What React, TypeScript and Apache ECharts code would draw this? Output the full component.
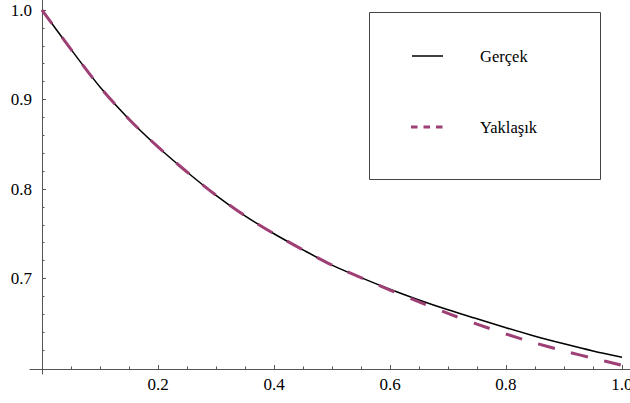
import React, { useEffect, useRef } from "react";
import * as echarts from "echarts";

const xs = [0, 0.05, 0.1, 0.15, 0.2, 0.25, 0.3, 0.35, 0.4, 0.45, 0.5, 0.55, 0.6, 0.65, 0.7, 0.75, 0.8, 0.85, 0.9, 0.95, 1.0];
const gercek = [1.0, 0.956, 0.914, 0.878, 0.847, 0.819, 0.793, 0.77, 0.75, 0.732, 0.715, 0.701, 0.688, 0.676, 0.665, 0.655, 0.645, 0.6355, 0.627, 0.619, 0.612];
const yaklasik = [1.0, 0.956, 0.914, 0.878, 0.847, 0.819, 0.793, 0.77, 0.75, 0.732, 0.715, 0.701, 0.687, 0.674, 0.661, 0.649, 0.638, 0.628, 0.619, 0.611, 0.603];

const xMajorTicks = [0.2, 0.4, 0.6, 0.8, 1.0];
const xMinorTicks = [0.05, 0.1, 0.15, 0.25, 0.3, 0.35, 0.45, 0.5, 0.55, 0.65, 0.7, 0.75, 0.85, 0.9, 0.95];
const yMajorTicks = [0.7, 0.8, 0.9, 1.0];
const yMinorTicks = [0.62, 0.64, 0.66, 0.68, 0.72, 0.74, 0.76, 0.78, 0.82, 0.84, 0.86, 0.88, 0.92, 0.94, 0.96, 0.98];

const legendNames = ["Gerçek", "Yaklaşık"];

const FONT = "Liberation Serif, DejaVu Serif, serif";
const AXIS_COLOR = "#555";
const DASH_COLOR = "#9e3f75";

export default function App() {
  const ref = useRef<HTMLDivElement>(null);
  useEffect(() => {
    if (!ref.current) return;
    const chart = echarts.init(ref.current, undefined, { renderer: "svg" });
    const xMin = -0.0207;
    const xMax = 1.0138;
    const yMin = 0.5933;
    const yMax = 1.0112;
    const baseX = {
      type: "value" as const,
      min: xMin,
      max: xMax,
      position: "bottom" as const,
      offset: -5,
      splitLine: { show: false },
    };
    const baseY = {
      type: "value" as const,
      min: yMin,
      max: yMax,
      position: "left" as const,
      offset: -12,
      splitLine: { show: false },
    };
    chart.setOption({
      animation: false,
      backgroundColor: "#fff",
      textStyle: { fontFamily: FONT },
      grid: { left: 30, right: 0, top: 0, bottom: 29, outerBoundsMode: "none" },
      legend: { show: false },
      xAxis: [
        {
          ...baseX,
          axisLine: { show: true, lineStyle: { color: AXIS_COLOR, width: 1 } },
          axisTick: { show: true, inside: true, length: 4, customValues: xMajorTicks, lineStyle: { color: AXIS_COLOR } },
          axisLabel: {
            show: true,
            customValues: xMajorTicks,
            margin: 7,
            color: "#000",
            fontFamily: FONT,
            fontSize: 17,
            formatter: (v: number) => v.toFixed(1),
          },
        },
        {
          ...baseX,
          axisLine: { show: false },
          axisTick: { show: true, inside: true, length: 2.5, customValues: xMinorTicks, lineStyle: { color: AXIS_COLOR } },
          axisLabel: { show: false },
        },
      ],
      yAxis: [
        {
          ...baseY,
          axisLine: { show: true, lineStyle: { color: AXIS_COLOR, width: 1 } },
          axisTick: { show: true, inside: true, length: 4, customValues: yMajorTicks, lineStyle: { color: AXIS_COLOR } },
          axisLabel: {
            show: true,
            customValues: yMajorTicks,
            margin: 10,
            color: "#000",
            fontFamily: FONT,
            fontSize: 17,
            formatter: (v: number) => v.toFixed(1),
          },
        },
        {
          ...baseY,
          axisLine: { show: false },
          axisTick: { show: true, inside: true, length: 2.5, customValues: yMinorTicks, lineStyle: { color: AXIS_COLOR } },
          axisLabel: { show: false },
        },
      ],
      series: [
        {
          name: legendNames[0],
          type: "line",
          xAxisIndex: 0,
          yAxisIndex: 0,
          data: xs.map((x, i) => [x, gercek[i]]),
          smooth: 0.3,
          showSymbol: false,
          lineStyle: { color: "#000", width: 1.5 },
          z: 2,
        },
        {
          name: legendNames[1],
          type: "line",
          xAxisIndex: 0,
          yAxisIndex: 0,
          data: xs.map((x, i) => [x, yaklasik[i]]),
          smooth: 0.3,
          showSymbol: false,
          lineStyle: { color: DASH_COLOR, width: 3, type: [17, 17] },
          z: 3,
        },
      ],
      graphic: [
        {
          type: "rect",
          shape: { x: 369.5, y: 12.5, width: 231, height: 167 },
          style: { fill: "#fff", stroke: "#444", lineWidth: 1 },
          z: 10,
        },
        {
          type: "line",
          shape: { x1: 412, y1: 56, x2: 443, y2: 56 },
          style: { stroke: "#000", lineWidth: 1.5 },
          z: 11,
        },
        {
          type: "line",
          shape: { x1: 411, y1: 127, x2: 443, y2: 127 },
          style: { stroke: DASH_COLOR, lineWidth: 3, lineDash: [6.5, 6] },
          z: 11,
        },
        {
          type: "text",
          x: 480,
          y: 56,
          style: { text: legendNames[0], fill: "#000", fontFamily: FONT, fontSize: 16.5, verticalAlign: "middle", align: "left" },
          z: 11,
        },
        {
          type: "text",
          x: 480,
          y: 127,
          style: { text: legendNames[1], fill: "#000", fontFamily: FONT, fontSize: 16.5, verticalAlign: "middle", align: "left" },
          z: 11,
        },
      ],
    });
    return () => chart.dispose();
  }, []);
  return (
    <div
      ref={ref}
      style={{ position: "fixed", left: 0, top: 0, width: 630, height: 403 }}
    />
  );
}
